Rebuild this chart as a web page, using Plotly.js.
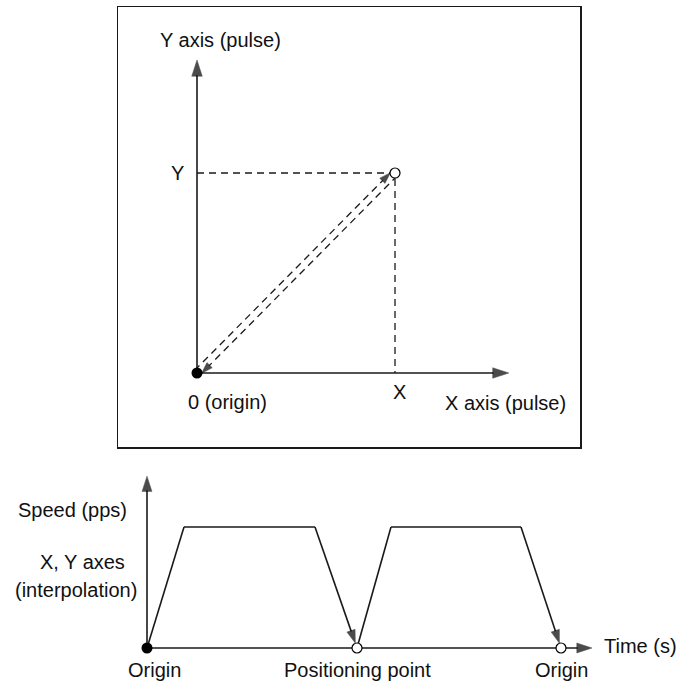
<!DOCTYPE html>
<html><head><meta charset="utf-8">
<script src="https://cdn.plot.ly/plotly-3.0.1.min.js"></script>
<style>html,body{margin:0;padding:0;background:#fff}#chart{width:694px;height:683px}</style>
</head><body><div id="chart"></div>
<script>
// ---------- Top diagram: linear interpolation in the X-Y plane (pulse units) ----------
const originPoint = [0, 0];          // 0 (origin)
const targetPoint = [6, 6];          // (X, Y)
const xAxisLength = 9.45;            // X axis (pulse) arrow end
const yAxisLength = 9.39;            // Y axis (pulse) arrow end
const planeLabels = ['X', 'Y', '0 (origin)', 'X axis (pulse)', 'Y axis (pulse)'];

// ---------- Bottom diagram: speed profile (time in s, speed normalised) ----------
const move1Time  = [0, 0.37, 1.68, 2.10];
const move1Speed = [0, 1, 1, 0];
const move2Time  = [2.10, 2.44, 3.74, 4.14];
const move2Speed = [0, 1, 1, 0];
const timeAxisLength  = 4.45;
const speedAxisLength = 1.42;
const stopTimes  = [0, 2.10, 4.14];
const stopLabels = ['Origin', 'Positioning point', 'Origin'];
const speedLabels = ['Speed (pps)', 'X, Y axes', '(interpolation)'];
const timeLabel = 'Time (s)';

// ---------- styling ----------
const W = 694, H = 683;
const INK = '#1a1a1a';
const FONT = {family: 'Liberation Sans, Arial, Helvetica, sans-serif', size: 20, color: '#111'};
const px = x => x / W, py = y => 1 - y / H;
const offX = 0.075, offY = 0.074; // half-gap between the two diagonal dashed paths

function arrowLine(x, y, opts) {
  const n = x.length;
  const last = i => i === n - 1;
  return {
    type: 'scatter', mode: 'lines+markers', x, y,
    xaxis: opts.xa, yaxis: opts.ya, hoverinfo: 'skip', showlegend: false,
    line: {color: INK, width: opts.width || 1.6, dash: opts.dash || 'solid'},
    marker: {symbol: 'arrow', angleref: 'previous', color: '#000', line: {width: 0.5, color: '#000'},
             size: x.map((_, i) => last(i) ? opts.head : 0),
             standoff: x.map((_, i) => last(i) ? (opts.standoff || 0) : 0)}
  };
}

const traces = [];
// top axes
traces.push(arrowLine([originPoint[0], xAxisLength], [originPoint[1], originPoint[1]], {xa:'x', ya:'y', head:17}));
traces.push(arrowLine([originPoint[0], originPoint[0]], [originPoint[1], yAxisLength], {xa:'x', ya:'y', head:17}));
// guide dashes to X and Y
traces.push({type:'scatter', mode:'lines', xaxis:'x', yaxis:'y', hoverinfo:'skip', showlegend:false,
  x:[originPoint[0], targetPoint[0], targetPoint[0]], y:[targetPoint[1], targetPoint[1], originPoint[1]],
  line:{color: INK, width: 1.3, dash: '7px,5px'}});
// outbound path (origin -> target)
traces.push(arrowLine([originPoint[0] - offX, targetPoint[0] - offX], [originPoint[1] + offY, targetPoint[1] + offY],
  {xa:'x', ya:'y', head:12, dash:'7px,5px', width:1.3, standoff:3}));
// return path (target -> origin)
traces.push(arrowLine([targetPoint[0] + offX, originPoint[0] + offX], [targetPoint[1] - offY, originPoint[1] - offY],
  {xa:'x', ya:'y', head:12, dash:'7px,5px', width:1.3, standoff:3}));
// points
traces.push({type:'scatter', mode:'markers', xaxis:'x', yaxis:'y', hoverinfo:'skip', showlegend:false,
  x:[originPoint[0]], y:[originPoint[1]], marker:{symbol:'circle', size:11, color:'#000'}});
traces.push({type:'scatter', mode:'markers', xaxis:'x', yaxis:'y', hoverinfo:'skip', showlegend:false,
  x:[targetPoint[0]], y:[targetPoint[1]], marker:{symbol:'circle', size:10, color:'#fff', line:{color:'#000', width:1.2}}});

// bottom axes
traces.push(arrowLine([0, timeAxisLength], [0, 0], {xa:'x2', ya:'y2', head:16}));
traces.push(arrowLine([0, 0], [0, speedAxisLength], {xa:'x2', ya:'y2', head:16}));
// speed profiles
traces.push(arrowLine(move1Time, move1Speed, {xa:'x2', ya:'y2', head:14, standoff:5}));
traces.push(arrowLine(move2Time, move2Speed, {xa:'x2', ya:'y2', head:14, standoff:5}));
// stop points
traces.push({type:'scatter', mode:'markers', xaxis:'x2', yaxis:'y2', hoverinfo:'skip', showlegend:false,
  x:[stopTimes[0]], y:[0], marker:{symbol:'circle', size:11, color:'#000'}});
traces.push({type:'scatter', mode:'markers', xaxis:'x2', yaxis:'y2', hoverinfo:'skip', showlegend:false,
  x:stopTimes.slice(1), y:stopTimes.slice(1).map(() => 0),
  marker:{symbol:'circle', size:10, color:'#fff', line:{color:'#000', width:1.2}}});

const ann = [];
const txt = (o) => ann.push(Object.assign({showarrow:false, font:FONT, xanchor:'center', yanchor:'middle'}, o));
// top labels
txt({text: planeLabels[0], xref:'x', yref:'y', x: targetPoint[0], y: originPoint[1], yanchor:'top', yshift:-6, xshift:4});
txt({text: planeLabels[1], xref:'x', yref:'y', x: originPoint[0], y: targetPoint[1], xanchor:'right', xshift:-11});
txt({text: planeLabels[2], xref:'x', yref:'y', x: originPoint[0], y: originPoint[1], xanchor:'left', yanchor:'top', xshift:-11, yshift:-16});
txt({text: planeLabels[3], xref:'paper', yref:'paper', x: px(443), y: py(403), xanchor:'left'});
txt({text: planeLabels[4], xref:'paper', yref:'paper', x: px(221), y: py(40)});
// bottom labels
stopTimes.forEach((t, i) => txt({text: stopLabels[i], xref:'x2', yref:'y2', x: t, y: 0, yshift:-22, xshift: i === 0 ? 7 : 0}));
txt({text: timeLabel, xref:'paper', yref:'paper', x: px(602), y: py(646), xanchor:'left'});
txt({text: speedLabels[0], xref:'paper', yref:'paper', x: px(72), y: py(510)});
txt({text: speedLabels[1], xref:'paper', yref:'paper', x: px(82), y: py(562)});
txt({text: speedLabels[2], xref:'paper', yref:'paper', x: px(76), y: py(590)});

const hidden = {showgrid:false, zeroline:false, showticklabels:false, ticks:'', fixedrange:true};
const layout = {
  width: W, height: H, margin: {l:0, r:0, t:0, b:0},
  paper_bgcolor: '#fff', plot_bgcolor: 'rgba(0,0,0,0)', showlegend: false,
  xaxis: Object.assign({}, hidden, {domain:[px(118), px(580)], range:[-79/33, 383/33],
           showline:true, mirror:true, linecolor:INK, linewidth:1.5, anchor:'y'}),
  yaxis: Object.assign({}, hidden, {domain:[py(447), py(7)], range:[-74/33.33, 366/33.33],
           showline:true, mirror:true, linecolor:INK, linewidth:1.5, anchor:'x'}),
  xaxis2: Object.assign({}, hidden, {domain:[0, 1], range:[-1.47, 5.47], anchor:'y2'}),
  yaxis2: Object.assign({}, hidden, {domain:[0, py(451)], range:[-35/121, 197/121], anchor:'x2'}),
  annotations: ann
};
Plotly.newPlot('chart', traces, layout, {staticPlot:true, displayModeBar:false});
</script></body></html>
